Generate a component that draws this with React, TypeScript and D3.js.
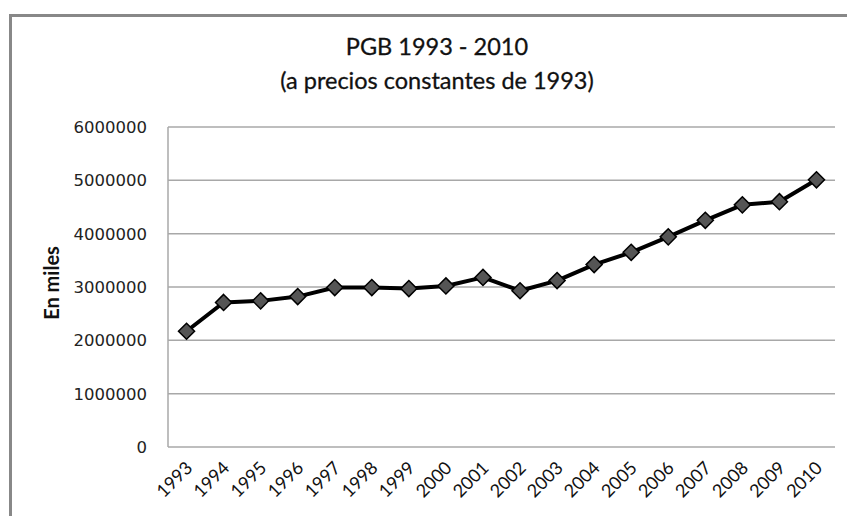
import React from "react";
import * as d3 from "d3";

const years = ["1993","1994","1995","1996","1997","1998","1999","2000","2001","2002","2003","2004","2005","2006","2007","2008","2009","2010"];
const pgb = [2170000,2710000,2740000,2820000,2990000,2990000,2970000,3020000,3180000,2930000,3120000,3420000,3650000,3940000,4250000,4540000,4600000,5010000];
const yTicks = [0,1000000,2000000,3000000,4000000,5000000,6000000];
const titleLines = ["PGB 1993 - 2010", "(a precios constantes de 1993)"];
const yTitle = "En miles";

export default function App() {
  const W = 847, H = 516;
  const left = 168, right = 835, top = 127, bottom = 447;
  const x = d3.scaleBand<string>().domain(years).range([left, right]);
  const y = d3.scaleLinear().domain([0, 6000000]).range([bottom, top]);
  const cx = (d: string) => (x(d) as number) + x.bandwidth() / 2;
  const line = d3.line<number>().x((_, i) => cx(years[i])).y((v) => y(v));
  const diamond = d3.symbol().type(d3.symbolDiamond2).size(165)();
  return (
    <svg width={W} height={H} style={{ position: "absolute", left: 0, top: 0, background: "#fff" }}>
      <rect x={0} y={0} width={W} height={H} fill="#fff" />
      <path d={`M10.5,${H} L10.5,15.5 L${W},15.5`} fill="none" stroke="#888" strokeWidth={3} />
      <text x={437} y={55} textAnchor="middle" fontFamily="Lato, 'Open Sans', sans-serif" fontSize={23.5} fill="#111" stroke="#111" strokeWidth={0.3}>{titleLines[0]}</text>
      <text x={437} y={89} textAnchor="middle" fontFamily="Lato, 'Open Sans', sans-serif" fontSize={23.5} fill="#111" stroke="#111" strokeWidth={0.3}>{titleLines[1]}</text>
      {yTicks.map((t) => (
        <g key={t}>
          <line x1={left} x2={right} y1={y(t)} y2={y(t)} stroke="#a8a8a8" strokeWidth={1.5} />
          <text x={147} y={y(t)} dy="0.36em" textAnchor="end" fontFamily="'DejaVu Sans', sans-serif" fontSize={16.5} fill="#222">{t}</text>
        </g>
      ))}
      <line x1={left} x2={left} y1={top} y2={bottom} stroke="#a8a8a8" strokeWidth={1.5} />
      <text transform={`translate(59,283) rotate(-90)`} textAnchor="middle" fontFamily="Lato, sans-serif" fontWeight="bold" fontSize={20} fill="#111">{yTitle}</text>
      {years.map((yr) => (
        <text key={yr} transform={`translate(${cx(yr) + 7},${bottom + 22}) rotate(-45)`} textAnchor="end" fontFamily="Lato, sans-serif" fontSize={18} fill="#111">{yr}</text>
      ))}
      <path d={line(pgb) as string} fill="none" stroke="#000" strokeWidth={4} strokeLinejoin="round" />
      {pgb.map((v, i) => (
        <path key={i} d={diamond as string} transform={`translate(${cx(years[i])},${y(v)})`} fill="#555" stroke="#000" strokeWidth={1.5} />
      ))}
    </svg>
  );
}
